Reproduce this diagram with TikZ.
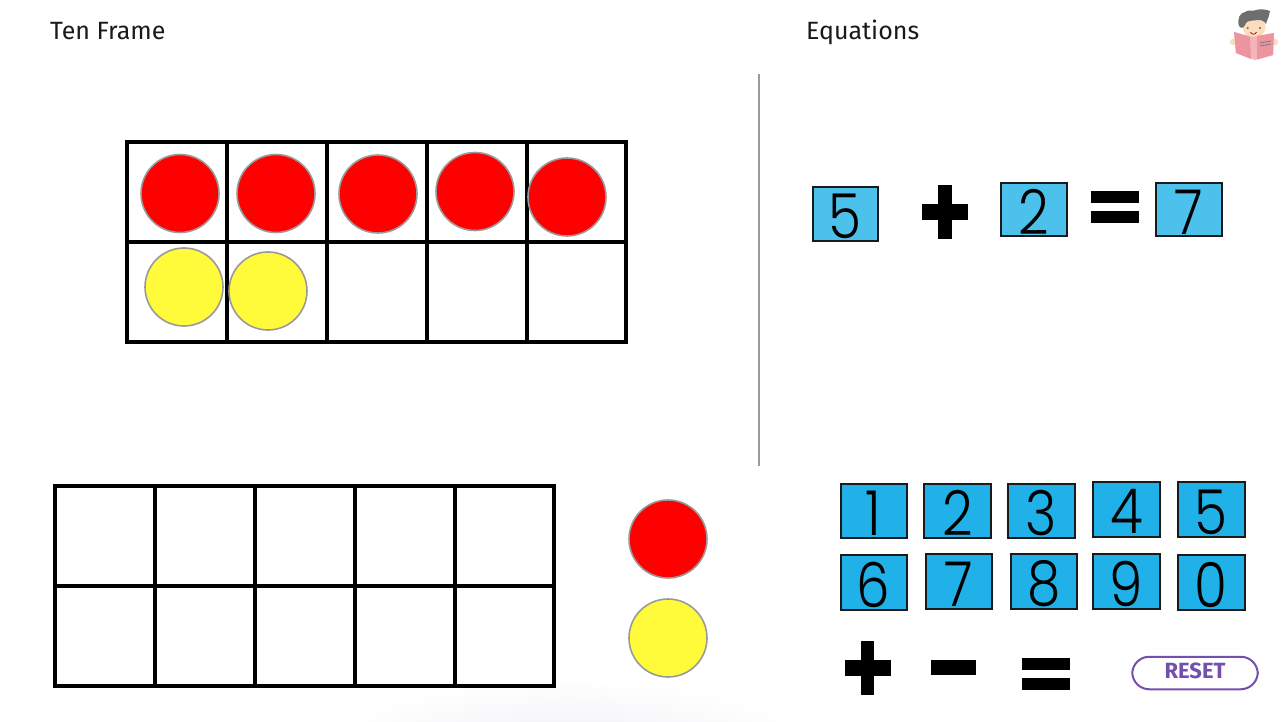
\documentclass[tikz,border=0pt]{standalone}
\usepackage{fontspec}
\setmainfont{Fira Sans}
\newfontfamily\digfont[UprightFont={* Light},FakeStretch=0.86]{Poppins}
\usetikzlibrary{calc}
\definecolor{tileA}{HTML}{1FB1E8}
\definecolor{tileB}{HTML}{4BC1EC}
\definecolor{edgeC}{HTML}{1A1A1A}
\definecolor{rimC}{HTML}{9A9A9A}
\definecolor{redC}{HTML}{FE0000}
\definecolor{yelC}{HTML}{FFFB3A}
\definecolor{purC}{HTML}{7350AE}
\definecolor{pinkC}{HTML}{EC959F}
\definecolor{pinkD}{HTML}{F5B4BA}
\definecolor{hairC}{HTML}{6E6E6E}
\definecolor{skinC}{HTML}{FBDDBE}
\definecolor{glowC}{HTML}{F1F1F6}
\tikzset{
  x=1pt,y=-1pt,
  head/.style={font=\fontsize{25}{28}\selectfont,anchor=base west,inner sep=0pt,text=black!90},
  gridline/.style={line width=3.8pt,black},
  chip/.style={circle,draw=rimC,line width=1.6pt,minimum size=78pt,inner sep=0pt},
  redchip/.style={chip,fill=redC},
  yelchip/.style={chip,fill=yelC},
  tile/.style={draw=edgeC,line width=2pt,inner sep=0pt,font=\digfont\fontsize{62}{62}\selectfont,text=black},
  symb/.style={fill=black,draw=none},
}
% tile: name, left, top, right, bottom, colour, digit
\newcommand{\tileat}[7]{%
  \node[tile,fill=#6,minimum width={(#4)*1pt-(#2)*1pt-2pt},minimum height={(#5)*1pt-(#3)*1pt-2pt}]
    (#1) at ({((#2)+(#4))/2},{((#3)+(#5))/2}) {};
  \node[inner sep=0pt,font=\digfont\fontsize{62}{62}\selectfont] (#1d) at ([yshift=-2.5pt]#1.center) {#7};}
\newcommand{\plusat}[2]{% centre x, y
  \fill[symb] (#1-23,#2-8) rectangle (#1+23,#2+8);
  \fill[symb] (#1-6.7,#2-27) rectangle (#1+6.7,#2+27);}
\newcommand{\equalat}[2]{%
  \fill[symb] (#1-24,#2-16.3) rectangle (#1+24,#2-3.8);
  \fill[symb] (#1-24,#2+3.8) rectangle (#1+24,#2+16.3);}
\begin{document}
\begin{tikzpicture}
\useasboundingbox (0,0) rectangle (1288,722);
\begin{scope}
\clip (0,0) rectangle (1288,722);
\fill[white] (0,0) rectangle (1288,722);
\shade[inner color=glowC,outer color=white] (570,750) ellipse [x radius=250,y radius=72];
\end{scope}
\node[head] (t1) at (50,40) {Ten Frame};
\node[head] (t2) at (806,40) {Equations};
\draw[rimC,line width=1.3pt] (759,74) -- (759,466);
% top frame
\draw[gridline] (127,142) rectangle (626,342);
\draw[gridline] (127,242) -- (626,242);
\foreach \x in {227,327,427,527} \draw[gridline] (\x,142) -- (\x,342);
% bottom frame
\draw[gridline] (55,486) rectangle (554,686);
\draw[gridline] (55,586) -- (554,586);
\foreach \x in {155,255,355,455} \draw[gridline] (\x,486) -- (\x,686);
% counters
\node[redchip] (r1) at (180,193.5) {};
\node[redchip] (r2) at (276,193.5) {};
\node[redchip] (r3) at (378,194) {};
\node[redchip] (r4) at (475,191.5) {};
\node[redchip] (r5) at (567,197) {};
\node[yelchip] (y1) at (184,287) {};
\node[yelchip] (y2) at (268,291) {};
\node[redchip] (pr) at (668,539) {};
\node[yelchip] (py) at (668,638) {};
% equation
\tileat{e5}{811.7}{186.3}{879}{242}{tileB}{\raisebox{-1.5pt}{5}}
\tileat{e2}{1000}{181.7}{1068}{237.3}{tileB}{2}
\tileat{e7}{1155}{181.7}{1222.7}{237.3}{tileB}{7}
\plusat{945}{212}
\equalat{1115}{207}
% number tiles
\tileat{n1}{839.5}{482.7}{908}{539}{tileA}{1}
\tileat{n2}{922.5}{482.7}{992}{539}{tileA}{2}
\tileat{n3}{1006.7}{482.7}{1076}{539}{tileA}{3}
\tileat{n4}{1091.7}{481}{1161}{537.7}{tileA}{4}
\tileat{n5}{1176.7}{481}{1246}{537.7}{tileA}{5}
\tileat{n6}{839.5}{553.7}{908}{610.7}{tileA}{6}
\tileat{n7}{924.7}{553}{993}{609.7}{tileA}{7}
\tileat{n8}{1009.7}{553}{1077.7}{609.7}{tileA}{8}
\tileat{n9}{1091.7}{553}{1161}{609.7}{tileA}{9}
\tileat{n0}{1176.7}{553.7}{1246}{610.7}{tileA}{0}
% operators
\plusat{867.5}{667.5}
\fill[symb] (931,659.7) rectangle (975.7,675.3);
\equalat{1045.5}{673.8}
% reset
\node[draw=purC,line width=2pt,rounded corners=17pt,minimum width=125.5pt,minimum height=32.5pt,inner sep=0pt,fill=white] (reset) at (1195,673) {};
\node[inner sep=0pt,text=purC,font=\bfseries\fontsize{22}{22}\selectfont] (resettext) at ([yshift=2pt]reset.center) {RESET};
% mascot
\fill[skinC] (1233,42) circle (3.2);
\fill[skinC] (1275,42) circle (3.2);
\fill[skinC] (1254,27) ellipse [x radius=11.5,y radius=11];
\fill[hairC] (1239,26) .. controls (1237,18) and (1240,13) .. (1245,12)
  .. controls (1249,9) and (1253,12) .. (1256,10) .. controls (1260,9) and (1265,9) .. (1270,11)
  .. controls (1270,15) and (1268,17) .. (1266,24) .. controls (1264,21) and (1262,20) .. (1258,20)
  .. controls (1252,21) and (1248,20) .. (1246,23) .. controls (1245,27) and (1241,30) .. (1239,26) -- cycle;
\fill[black!60] (1247.7,28) circle (1.1) (1260,28) circle (1.1);
\draw[red!70!black,line width=.7pt] (1250.5,32) .. controls (1252,35) and (1255,35) .. (1256.5,32);
\fill[pinkD] (1234,32) -- (1253,37) -- (1274,33) -- (1273,55) -- (1255,60) -- (1236,53) -- cycle;
\fill[pinkC] (1234,32) -- (1250,37) -- (1251,59) -- (1236,53) -- cycle;
\fill[pinkC] (1257,36) -- (1274,33) -- (1273,55) -- (1257,59.5) -- cycle;
\draw[black!50,line width=.9pt] (1260,43) -- (1271,41) (1260,46) -- (1271,44);
\end{tikzpicture}
\end{document}
